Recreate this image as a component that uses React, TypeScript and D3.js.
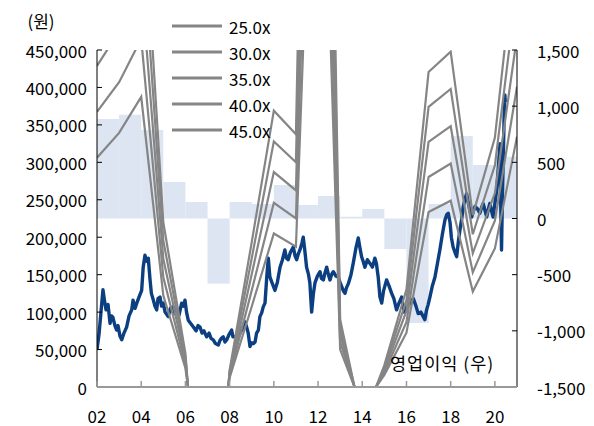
import React from 'react';
import * as d3 from 'd3';

// 연간 영업이익 (우축)
const barYears = [2002, 2003, 2004, 2005, 2006, 2007, 2008, 2009, 2010, 2011, 2012, 2013, 2014, 2015, 2016, 2017, 2018, 2019, 2020];
const opProfit = [886, 924, 788, 325, 147, -580, 147, 130, 298, 120, 200, 16, 85, -272, -930, 129, 734, 476, 550];

// PER 밴드용 EPS (연초 기준)
const epsYears = [2002, 2003, 2004, 2005, 2006, 2007, 2008, 2009, 2010, 2011, 2012, 2013, 2014, 2015, 2016, 2017, 2018, 2019, 2020, 2021];
const eps = [12250, 13570, 15500, 4880, 1000, -7500, 500, 4300, 8200, 7500, 40000, 2000, -1080, 650, 2900, 9350, 9950, 5100, 7400, 13370];

const multiples = [25, 30, 35, 40, 45];
const legendLabels = ['25.0x', '30.0x', '35.0x', '40.0x', '45.0x'];

// 주가 (원)
const prices: [number, number][] = [
  [2002.00, 50000], [2002.09, 70000], [2002.18, 100000], [2002.27, 130000], [2002.34, 115000],
  [2002.41, 103000], [2002.50, 110000], [2002.59, 85000], [2002.66, 95000], [2002.72, 93000],
  [2002.81, 82000], [2002.89, 76000], [2002.95, 82000], [2003.04, 68000], [2003.12, 63000],
  [2003.22, 72000], [2003.34, 80000], [2003.45, 95000], [2003.57, 103000], [2003.63, 116000],
  [2003.72, 105000], [2003.80, 112000], [2003.90, 120000], [2004.02, 129000], [2004.09, 160000],
  [2004.17, 176000], [2004.24, 168000], [2004.32, 172000], [2004.40, 143000], [2004.46, 125000],
  [2004.55, 116000], [2004.62, 108000], [2004.70, 103000], [2004.76, 118000], [2004.85, 120000],
  [2004.92, 108000], [2005.00, 112000], [2005.08, 100000], [2005.22, 94000], [2005.32, 105000],
  [2005.45, 107000], [2005.53, 98000], [2005.60, 103000], [2005.71, 96000], [2005.83, 112000],
  [2005.91, 108000], [2005.98, 116000], [2006.05, 100000], [2006.13, 89000], [2006.23, 85000],
  [2006.36, 80000], [2006.48, 75000], [2006.57, 82000], [2006.66, 80000], [2006.75, 72000],
  [2006.84, 75000], [2006.96, 67000], [2007.07, 72000], [2007.16, 65000], [2007.26, 63000],
  [2007.36, 58000], [2007.49, 56000], [2007.56, 62000], [2007.63, 65000], [2007.71, 67000],
  [2007.79, 60000], [2007.87, 63000], [2007.97, 70000], [2008.09, 76000], [2008.15, 67000],
  [2008.24, 67000], [2008.35, 65000], [2008.47, 72000], [2008.58, 78000], [2008.69, 87000],
  [2008.77, 80000], [2008.84, 72000], [2008.92, 54000], [2009.00, 59000], [2009.08, 58000],
  [2009.15, 60000], [2009.22, 72000], [2009.30, 76000], [2009.37, 94000], [2009.45, 99000],
  [2009.52, 107000], [2009.60, 112000], [2009.68, 147000], [2009.75, 172000], [2009.82, 147000],
  [2009.92, 139000], [2010.05, 129000], [2010.16, 140000], [2010.28, 160000], [2010.39, 170000],
  [2010.50, 183000], [2010.57, 172000], [2010.65, 170000], [2010.75, 180000], [2010.88, 187000],
  [2010.96, 175000], [2011.03, 170000], [2011.11, 178000], [2011.18, 183000], [2011.27, 192000],
  [2011.33, 200000], [2011.41, 180000], [2011.48, 160000], [2011.57, 150000], [2011.63, 139000],
  [2011.71, 100000], [2011.79, 125000], [2011.86, 139000], [2011.97, 148000], [2012.09, 154000],
  [2012.15, 145000], [2012.24, 143000], [2012.31, 152000], [2012.39, 160000], [2012.47, 150000],
  [2012.54, 143000], [2012.61, 150000], [2012.69, 154000], [2012.81, 148000], [2012.91, 147000],
  [2012.99, 140000], [2013.07, 134000], [2013.15, 128000], [2013.22, 125000], [2013.28, 132000],
  [2013.37, 138000], [2013.49, 150000], [2013.59, 165000], [2013.71, 185000], [2013.82, 199000],
  [2013.90, 185000], [2013.97, 174000], [2014.04, 168000], [2014.12, 160000], [2014.23, 170000],
  [2014.35, 165000], [2014.46, 160000], [2014.57, 172000], [2014.64, 165000], [2014.72, 147000],
  [2014.80, 120000], [2014.88, 112000], [2014.96, 128000], [2015.10, 143000], [2015.21, 135000],
  [2015.33, 125000], [2015.43, 118000], [2015.55, 103000], [2015.66, 112000], [2015.78, 120000],
  [2015.89, 100000], [2016.01, 107000], [2016.16, 112000], [2016.31, 118000], [2016.43, 108000],
  [2016.53, 98000], [2016.65, 100000], [2016.76, 94000], [2016.83, 90000], [2016.91, 103000],
  [2016.98, 110000], [2017.06, 120000], [2017.17, 135000], [2017.29, 147000], [2017.40, 165000],
  [2017.51, 183000], [2017.63, 205000], [2017.74, 223000], [2017.82, 230000], [2017.89, 232000],
  [2017.97, 220000], [2018.03, 200000], [2018.11, 187000], [2018.19, 180000], [2018.27, 174000],
  [2018.35, 195000], [2018.42, 210000], [2018.50, 225000], [2018.57, 241000], [2018.64, 250000],
  [2018.72, 258000], [2018.80, 245000], [2018.87, 235000], [2018.95, 227000], [2019.03, 235000],
  [2019.10, 241000], [2019.21, 238000], [2019.32, 232000], [2019.40, 240000], [2019.47, 245000],
  [2019.55, 236000], [2019.63, 227000], [2019.71, 238000], [2019.77, 245000], [2019.85, 235000],
  [2019.92, 227000], [2020.00, 245000], [2020.08, 263000], [2020.16, 295000], [2020.23, 325000],
  [2020.26, 250000], [2020.30, 183000], [2020.34, 255000], [2020.39, 320000], [2020.42, 365000],
  [2020.45, 390000], [2020.47, 380000],
];

const leftTicks = [0, 50000, 100000, 150000, 200000, 250000, 300000, 350000, 400000, 450000];
const rightTicks = [-1500, -1000, -500, 0, 500, 1000, 1500];
const xTicks = [2002, 2004, 2006, 2008, 2010, 2012, 2014, 2016, 2018, 2020];
const xTickLabels = ['02', '04', '06', '08', '10', '12', '14', '16', '18', '20'];

const W = 594;
const H = 426;
const margin = { top: 50, right: 77, bottom: 39, left: 97 };
const font = '"Noto Sans CJK KR", "Noto Sans", sans-serif';

export default function App() {
  const x = d3.scaleLinear().domain([2002, 2021]).range([margin.left, W - margin.right]);
  const yL = d3.scaleLinear().domain([0, 450000]).range([H - margin.bottom, margin.top]);
  const yR = d3.scaleLinear().domain([-1500, 1500]).range([H - margin.bottom, margin.top]);
  const fmt = d3.format(',');

  const priceLine = d3.line<[number, number]>()
    .x(d => x(d[0]))
    .y(d => yL(d[1]));

  const bandLine = (m: number) =>
    d3.line<number>()
      .x((_, i) => x(epsYears[i]))
      .y(e => yL(e * m))(eps) || '';

  const x0 = margin.left;
  const x1 = W - margin.right;
  const y0 = margin.top;
  const y1 = H - margin.bottom;

  return (
    <svg width={W} height={H} style={{ position: 'absolute', left: 0, top: 0, fontFamily: font }}>
      <defs>
        <clipPath id="plot">
          <rect x={x0} y={y0} width={x1 - x0} height={y1 - y0} />
        </clipPath>
      </defs>
      <rect width={W} height={H} fill="#fff" />

      {/* 영업이익 막대 */}
      <g clipPath="url(#plot)">
        {barYears.map((yr, i) => {
          const v = opProfit[i];
          const top = yR(Math.max(0, v));
          const bot = yR(Math.min(0, v));
          return (
            <rect key={yr} x={x(yr)} y={top} width={x(yr + 1) - x(yr)} height={bot - top} fill="#dce5f1" />
          );
        })}
      </g>

      {/* 주가 */}
      <path
        d={priceLine(prices) || ''}
        fill="none"
        stroke="#0b3f82"
        strokeWidth={3.4}
        strokeLinejoin="round"
        clipPath="url(#plot)"
      />

      {/* PER 밴드 */}
      <g clipPath="url(#plot)">
        {multiples.map(m => (
          <path key={m} d={bandLine(m)} fill="none" stroke="#858585" strokeWidth={2.2} strokeLinejoin="miter" />
        ))}
      </g>

      {/* 좌축 */}
      <line x1={x0} x2={x0} y1={y0} y2={y1} stroke="#000" strokeWidth={1} />
      {leftTicks.map(t => (
        <g key={t}>
          <line x1={x0} x2={x0 + 5} y1={yL(t)} y2={yL(t)} stroke="#000" />
          <text x={x0 - 10} y={yL(t)} textAnchor="end" dominantBaseline="central" fontSize={17} fill="#000">
            {fmt(t)}
          </text>
        </g>
      ))}
      <text x={41} y={20} textAnchor="middle" dominantBaseline="central" fontSize={17}>(원)</text>

      {/* 우축 */}
      <line x1={x1} x2={x1} y1={y0} y2={y1} stroke="#000" strokeWidth={1} />
      {rightTicks.map(t => (
        <g key={t}>
          <line x1={x1 - 5} x2={x1} y1={yR(t)} y2={yR(t)} stroke="#000" />
          <text x={x1 + 20} y={yR(t)} textAnchor="start" dominantBaseline="central" fontSize={17} fill="#000">
            {fmt(t).replace('−', '-')}
          </text>
        </g>
      ))}

      {/* x축 */}
      <line x1={x0} x2={x1} y1={y1} y2={y1} stroke="#999" strokeWidth={2} />
      {xTicks.map((t, i) => (
        <g key={t}>
          <line x1={x(t)} x2={x(t)} y1={y1 - 6} y2={y1} stroke="#999" strokeWidth={1.5} />
          <text x={x(t)} y={415} textAnchor="middle" dominantBaseline="central" fontSize={17}>
            {xTickLabels[i]}
          </text>
        </g>
      ))}

      {/* 범례 */}
      {legendLabels.map((lab, i) => (
        <g key={lab} transform={`translate(172, ${26 + i * 26})`}>
          <line x1={0} x2={50} y1={0} y2={0} stroke="#858585" strokeWidth={3} />
          <text x={57} y={0} dominantBaseline="central" fontSize={17}>{lab}</text>
        </g>
      ))}

      <text x={390} y={362} dominantBaseline="central" fontSize={17.5} letterSpacing={1}>영업이익 (우)</text>
    </svg>
  );
}
